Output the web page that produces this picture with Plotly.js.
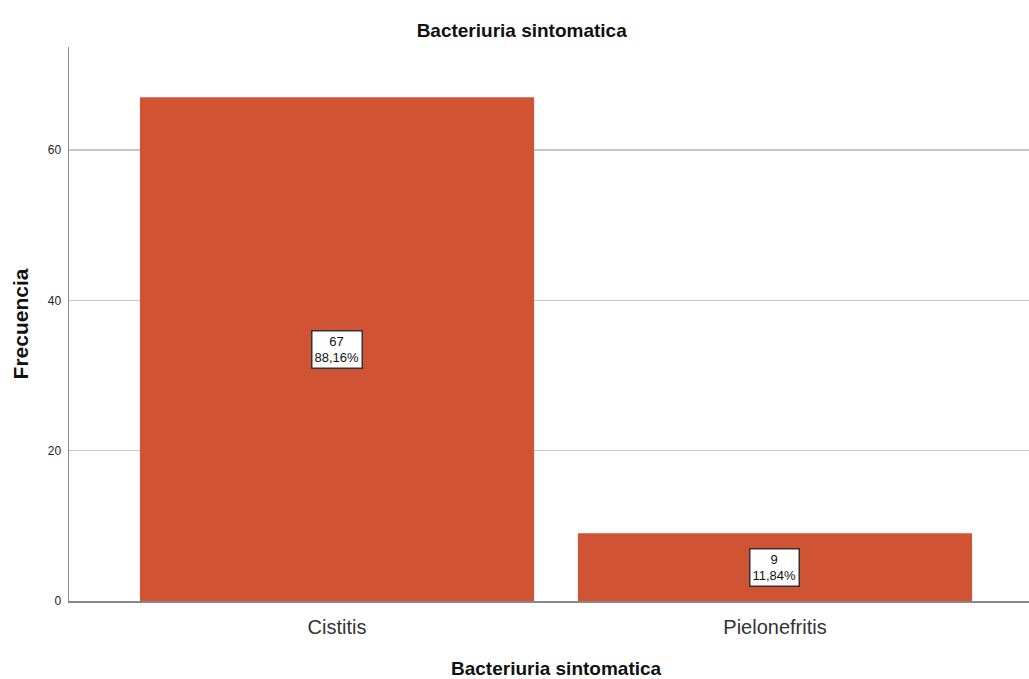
<!DOCTYPE html>
<html>
<head>
<meta charset="utf-8">
<script src="https://cdn.plot.ly/plotly-3.0.1.min.js"></script>
<style>html,body{margin:0;padding:0;background:#fff;}#chart{width:1029px;height:679px;}</style>
</head>
<body>
<div id="chart"></div>
<script>
const categories = ["Cistitis", "Pielonefritis"];
const counts = [67, 9];
const percents = ["88,16%", "11,84%"];
const xTitle = "Bacteriuria sintomatica";

const FONT = "Liberation Sans, Arial, sans-serif";

const annotations = categories.map((c, i) => ({
  x: c, y: counts[i] / 2, xref: "x", yref: "y",
  text: counts[i] + "<br>" + percents[i],
  showarrow: false,
  bgcolor: "#ffffff", bordercolor: "#333333", borderwidth: 1.5, borderpad: 2,
  font: {family: FONT, size: 13, color: "#111"}
}));
annotations.push({
  xref: "paper", yref: "paper", x: 0.508, y: -0.121, xanchor: "center", yanchor: "middle",
  text: "<b>" + xTitle + "</b>", showarrow: false,
  font: {family: FONT, size: 19, color: "#111"}
});

Plotly.newPlot("chart", [{
  type: "bar", x: categories, y: counts,
  width: 0.9,
  marker: {color: "#D05433", line: {width: 0}},
  hoverinfo: "none"
}], {
  width: 1029, height: 679,
  margin: {l: 69, r: 0, t: 47, b: 78},
  paper_bgcolor: "#fff", plot_bgcolor: "#fff",
  showlegend: false,
  title: {text: "<b>Bacteriuria sintomatica</b>", x: 0.507, xanchor: "center", y: 0.956, yanchor: "middle",
          font: {family: FONT, size: 19, color: "#111"}},
  xaxis: {
    type: "category", range: [-0.612, 1.58],
    showline: true, linecolor: "#888", linewidth: 1.5, showgrid: false, ticks: "",
    ticklabelstandoff: 7,
    tickfont: {family: FONT, size: 20, color: "#333"},
    fixedrange: true
  },
  yaxis: {
    range: [0, 73.7], tickvals: [0, 20, 40, 60], ticks: "",
    ticklabelstandoff: 4,
    showline: true, linecolor: "#888", linewidth: 1.5,
    showgrid: true, gridcolor: "#c8c8c8", gridwidth: 1.5, zeroline: false,
    tickfont: {family: FONT, size: 12, color: "#222"},
    title: {text: "<b>Frecuencia</b>", standoff: 13, font: {family: FONT, size: 21, color: "#111"}},
    fixedrange: true
  },
  annotations: annotations
}, {displayModeBar: false, staticPlot: true});
</script>
</body>
</html>
